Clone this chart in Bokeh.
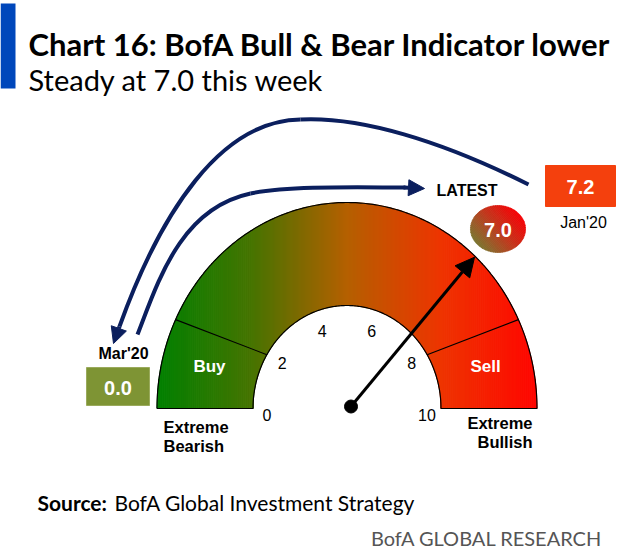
import math
import numpy as np
from bokeh.plotting import figure
from bokeh.models import Range1d, Label, Arrow, NormalHead, ColumnDataSource
from bokeh.embed import file_html
from bokeh.resources import INLINE

# ---------------- data ----------------
scale_ticks = [0, 2, 4, 6, 8, 10]
scale_min, scale_max = 0, 10
zone_names = ["Buy", "Sell"]
extreme_left = ["Extreme", "Bearish"]
extreme_right = ["Extreme", "Bullish"]
latest_label = "LATEST"
latest_value = 7.0
needle_value = 7.2            # where the needle is drawn on the dial
peak_label, peak_value = "Jan'20", 7.2
trough_label, trough_value = "Mar'20", 0.0
title = "Chart 16: BofA Bull & Bear Indicator lower"
subtitle = "Steady at 7.0 this week"
source_label = "Source:"
source_text = "BofA Global Investment Strategy"
brand = "BofA GLOBAL RESEARCH"

# ---------------- layout / style ----------------
W, H = 640, 551
FONT = "Liberation Sans"
HEAD = "Lato"
NAVY = "#0B1F5E"
cx, cy = 346.5, 408.0          # dial centre
ROX, ROY = 190.0, 206.0        # outer radii
RIX, RIY = 94.0, 103.0         # inner radii
DIV_OUT, DIV_IN = 1.42, 1.75   # slanted zone dividers (dial units)

stops = [(0.0, (0, 128, 0)), (0.25, (70, 116, 0)), (0.5, (180, 96, 0)),
         (0.75, (238, 52, 0)), (1.0, (255, 6, 0))]


def grad(t, st=stops):
    t = min(max(t, 0.0), 1.0)
    for (t0, c0), (t1, c1) in zip(st[:-1], st[1:]):
        if t <= t1:
            f = (t - t0) / (t1 - t0)
            return "#%02x%02x%02x" % tuple(int(round(a + (b - a) * f)) for a, b in zip(c0, c1))
    return "#%02x%02x%02x" % st[-1][1]


def ang(v):
    return math.pi * (1 - (v - scale_min) / (scale_max - scale_min))


def y_out(x):
    u = (np.asarray(x) - cx) / ROX
    return cy - ROY * np.sqrt(np.clip(1 - u ** 2, 0, 1))


def y_in(x):
    u = (np.asarray(x) - cx) / RIX
    return np.where(np.abs(u) < 1, cy - RIY * np.sqrt(np.clip(1 - u ** 2, 0, 1)), cy)


p = figure(width=W, height=H, x_range=Range1d(0, W), y_range=Range1d(H, 0),
           output_backend="svg", toolbar_location=None, min_border=0,
           x_axis_location=None, y_axis_location=None)
p.grid.visible = False
p.outline_line_color = None
p.background_fill_color = "white"
p.border_fill_color = "white"

# ---------------- dial band with horizontal gradient ----------------
edges = np.unique(np.concatenate([
    np.linspace(cx - ROX, cx - RIX, 50),
    np.linspace(cx - RIX, cx + RIX, 95),
    np.linspace(cx + RIX, cx + ROX, 50)]))
sx, sy, sc = [], [], []
for x0, x1 in zip(edges[:-1], edges[1:]):
    xx = np.linspace(x0, x1, 5)
    top = y_out(xx)
    bot = y_in(xx)
    sx.append(list(xx) + list(xx[::-1]))
    sy.append(list(top) + list(bot[::-1]))
    sc.append(grad(((x0 + x1) / 2 - (cx - ROX)) / (2 * ROX)))
p.patches(xs="xs", ys="ys", fill_color="c", line_color="c", line_width=1.0,
          source=ColumnDataSource(dict(xs=sx, ys=sy, c=sc)))

# outline
th = np.linspace(math.pi, 0, 240)
ox = list(cx + ROX * np.cos(th)) + list(cx + RIX * np.cos(th[::-1]))
oy = list(cy - ROY * np.sin(th)) + list(cy - RIY * np.sin(th[::-1]))
ox.append(ox[0]); oy.append(oy[0])
p.line(ox, oy, line_color="black", line_width=1.2)

# zone dividers
dx0 = [cx + ROX * math.cos(ang(DIV_OUT)), cx + ROX * math.cos(ang(scale_max - DIV_OUT))]
dy0 = [cy - ROY * math.sin(ang(DIV_OUT)), cy - ROY * math.sin(ang(scale_max - DIV_OUT))]
dx1 = [cx + RIX * math.cos(ang(DIV_IN)), cx + RIX * math.cos(ang(scale_max - DIV_IN))]
dy1 = [cy - RIY * math.sin(ang(DIV_IN)), cy - RIY * math.sin(ang(scale_max - DIV_IN))]
p.segment(x0=dx0, y0=dy0, x1=dx1, y1=dy1, line_color="black", line_width=1.1)

# tick labels
for v in scale_ticks:
    a = ang(v)
    p.add_layout(Label(x=cx + 80 * math.cos(a), y=cy + 6 - 88 * math.sin(a), text=str(v),
                       text_font=FONT, text_font_size="16px", text_color="black",
                       text_align="center", text_baseline="middle"))

# zone names
for name, xpos in zip(zone_names, [209, 485]):
    p.add_layout(Label(x=xpos, y=366, text=name, text_font=FONT, text_font_size="17px",
                       text_font_style="bold", text_color="white",
                       text_align="center", text_baseline="middle"))

# extreme labels
for i, t in enumerate(extreme_left):
    p.add_layout(Label(x=163, y=426 + 19 * i, text=t, text_font=FONT, text_font_size="16.5px",
                       text_font_style="bold", text_color="black",
                       text_align="left", text_baseline="middle"))
for i, t in enumerate(extreme_right):
    p.add_layout(Label(x=532, y=422 + 19 * i, text=t, text_font=FONT, text_font_size="16.5px",
                       text_font_style="bold", text_color="black",
                       text_align="right", text_baseline="middle"))

# ---------------- needle ----------------
px, py = 350.5, 406.0
a = ang(needle_value)
ux, uy = math.cos(a), -math.sin(a)
lo, hi = 0.0, 400.0
for _ in range(60):
    mid = (lo + hi) / 2
    qx, qy = px + mid * ux, py + mid * uy
    if ((qx - cx) / ROX) ** 2 + ((qy - cy) / ROY) ** 2 < 1:
        lo = mid
    else:
        hi = mid
L = lo - 1
p.add_layout(Arrow(end=NormalHead(size=19, fill_color="black", line_color="black", line_width=1),
                   x_start=px, y_start=py, x_end=px + L * ux, y_end=py + L * uy,
                   line_width=3, line_color="black"))
p.scatter(x=[px], y=[py], size=13, color="black")

# ---------------- curved navy arrows ----------------
p.bezier(x0=[528, 300], y0=[184, 119], x1=[300, 119], y1=[119, 326],
         cx0=[440, 220], cy0=[140, 120], cx1=[360, 160], cy1=[116, 212],
         line_color=NAVY, line_width=4)
p.add_layout(Arrow(end=NormalHead(size=16, fill_color=NAVY, line_color=NAVY),
                   x_start=119, y_start=326, x_end=113, y_end=343,
                   line_width=4, line_color=NAVY))
p.bezier(x0=[137, 250], y0=[334, 193], x1=[250, 405], y1=[193, 187],
         cx0=[158, 290], cy0=[280, 185], cx1=[180, 360], cy1=[208, 187],
         line_color=NAVY, line_width=4)
p.add_layout(Arrow(end=NormalHead(size=16, fill_color=NAVY, line_color=NAVY),
                   x_start=403, y_start=187, x_end=424, y_end=188,
                   line_width=4, line_color=NAVY))

# ---------------- latest bubble ----------------
ex, ey, ea, eb = 497.5, 228.5, 27.5, 23.5
tt = np.linspace(0, 2 * math.pi, 200, endpoint=False)
ell = [(ex + ea * math.cos(t), ey + eb * math.sin(t)) for t in tt]


def clip(poly, nx, ny, c):
    out = []
    n = len(poly)
    for i in range(n):
        P, Q = poly[i], poly[(i + 1) % n]
        dp = nx * P[0] + ny * P[1] - c
        dq = nx * Q[0] + ny * Q[1] - c
        if dp >= 0:
            out.append(P)
        if (dp >= 0) != (dq >= 0):
            f = dp / (dp - dq)
            out.append((P[0] + f * (Q[0] - P[0]), P[1] + f * (Q[1] - P[1])))
    return out


gx, gy = math.cos(math.radians(40)), -math.sin(math.radians(40))
umax = math.sqrt((ea * gx) ** 2 + (eb * gy) ** 2)
bstops = [(0.0, (122, 118, 48)), (0.5, (192, 58, 30)), (1.0, (246, 2, 6))]
nb = 36
bx, by, bc = [], [], []
for k in range(nb):
    u0 = -umax + 2 * umax * k / nb
    u1 = -umax + 2 * umax * (k + 1) / nb + 0.3
    poly = clip(ell, gx, gy, gx * ex + gy * ey + u0)
    poly = clip(poly, -gx, -gy, -(gx * ex + gy * ey + u1))
    if len(poly) >= 3:
        bx.append([q[0] for q in poly]); by.append([q[1] for q in poly])
        bc.append(grad((k + 0.5) / nb, bstops))
p.patches(xs="xs", ys="ys", fill_color="c", line_color="c", line_width=0.6,
          source=ColumnDataSource(dict(xs=bx, ys=by, c=bc)))
p.add_layout(Label(x=ex, y=ey + 1, text=f"{latest_value:.1f}", text_font=FONT, text_font_size="20px",
                   text_font_style="bold", text_color="white",
                   text_align="center", text_baseline="middle"))
p.add_layout(Label(x=466.5, y=189.5, text=latest_label, text_font=FONT, text_font_size="16px",
                   text_font_style="bold", text_color="black",
                   text_align="center", text_baseline="middle"))

# ---------------- peak / trough boxes ----------------
p.quad(left=[545], right=[615], top=[165], bottom=[206], fill_color="#F4400D", line_color="#F4400D")
p.add_layout(Label(x=580, y=186, text=f"{peak_value:.1f}", text_font=FONT, text_font_size="20px",
                   text_font_style="bold", text_color="white",
                   text_align="center", text_baseline="middle"))
p.add_layout(Label(x=583, y=222, text=peak_label, text_font=FONT, text_font_size="16px",
                   text_color="black", text_align="center", text_baseline="middle"))

p.quad(left=[86], right=[149], top=[367], bottom=[405], fill_color="#7E9434", line_color="#9AAA5C")
p.add_layout(Label(x=117.5, y=387, text=f"{trough_value:.1f}", text_font=FONT, text_font_size="20px",
                   text_font_style="bold", text_color="white",
                   text_align="center", text_baseline="middle"))
p.add_layout(Label(x=123, y=353, text=trough_label, text_font=FONT, text_font_size="16px",
                   text_font_style="bold", text_color="black",
                   text_align="center", text_baseline="middle"))

# ---------------- titles / footer ----------------
p.quad(left=[0], right=[15], top=[3], bottom=[88], fill_color="#0047BB", line_color=None)
p.add_layout(Label(x=28, y=43, text=title, text_font=HEAD, text_font_size="31px",
                   text_font_style="bold", text_color="black",
                   text_align="left", text_baseline="alphabetic"))
p.add_layout(Label(x=28, y=79, text=subtitle, text_font=HEAD, text_font_size="29px",
                   text_color="black", text_align="left", text_baseline="alphabetic"))
p.add_layout(Label(x=37, y=502, text=source_label, text_font=HEAD, text_font_size="21px",
                   text_font_style="bold", text_color="black",
                   text_align="left", text_baseline="alphabetic"))
p.add_layout(Label(x=114, y=502, text=source_text, text_font=HEAD, text_font_size="21px",
                   text_color="black", text_align="left", text_baseline="alphabetic"))
p.add_layout(Label(x=602, y=537, text=brand, text_font=HEAD, text_font_size="20px",
                   text_color="#555555", text_align="right", text_baseline="alphabetic"))

open("out.html", "w").write(file_html(p, INLINE))
